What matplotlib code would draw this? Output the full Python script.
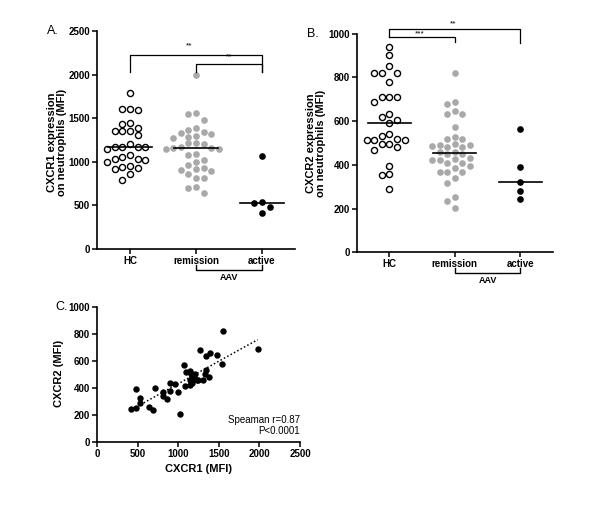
import numpy as np
import matplotlib
matplotlib.use("Agg")
import matplotlib.pyplot as plt

plt.rcParams['font.family'] = ['Liberation Sans', 'DejaVu Sans']

# данные
groups = ["HC", "remission", "active"]

cxcr1_hc = [1790, 1610, 1590, 1600, 1450, 1430, 1390, 1355, 1310, 1350, 1357,
            1170, 1165, 1200, 1150, 1165, 1170, 1075, 1035, 1025, 1030, 1050,
            1000, 950, 930, 915, 935, 865, 790]
cxcr1_rem = [1990, 1555, 1545, 1485, 1390, 1370, 1345, 1330, 1320, 1300, 1290,
             1270, 1220, 1210, 1200, 1165, 1160, 1155, 1150, 1150, 1085, 1080,
             1025, 995, 965, 930, 905, 915, 895, 860, 815, 815, 715, 695, 640]
cxcr1_act = [1070, 535, 530, 480, 410]

cxcr2_hc = [940, 902, 850, 820, 820, 820, 778, 712, 712, 712, 686, 632, 620,
            605, 590, 540, 532, 520, 512, 512, 512, 497, 497, 482, 467, 397,
            360, 355, 290]
cxcr2_rem = [819, 689, 678, 648, 633, 633, 572, 527, 517, 517, 494, 491, 491,
             488, 483, 483, 460, 457, 450, 450, 433, 425, 422, 421, 410, 407,
             395, 384, 369, 369, 369, 338, 316, 254, 235, 201]
cxcr2_act = [564, 389, 323, 280, 242]

corr_x = [415, 476, 476, 534, 534, 640, 693, 714, 813, 813, 866, 899, 899, 956,
          998, 1018, 1068, 1084, 1092, 1145, 1170, 1145, 1203, 1170, 1145, 1227,
          1195, 1268, 1338, 1392, 1330, 1310, 1380, 1474, 1535, 1556, 1979,
          1160, 1240, 1345]
corr_y = [246, 251, 389, 328, 289, 256, 237, 397, 372, 340, 320, 379, 434, 426,
          372, 207, 569, 414, 520, 522, 483, 458, 503, 434, 421, 458, 463, 680,
          636, 655, 503, 458, 478, 641, 577, 820, 690, 505, 455, 535]

W, H = 600, 516
fig = plt.figure(figsize=(W / 100, H / 100), dpi=100)


def box(l, t, r, b):
    # пиксели -> доли фигуры
    return [l / W, 1 - b / H, (r - l) / W, (b - t) / H]


def style(ax):
    for s in ["top", "right"]:
        ax.spines[s].set_visible(False)
    for s in ["left", "bottom"]:
        ax.spines[s].set_linewidth(1.2)
    ax.tick_params(direction="out", length=3.5, width=1.1, pad=1.5,
                   labelsize=7)
    for lab in ax.get_xticklabels() + ax.get_yticklabels():
        lab.set_fontweight("bold")


def swarm(ax, vals, center, diam_px):
    # простой beeswarm: сдвигаем точку вбок 0, -1, +1, -2 ... пока не перестанет перекрываться
    tr = ax.transData
    p0 = tr.transform((center, 0))[0]
    p1 = tr.transform((center + 1, 0))[0]
    step = diam_px / (p1 - p0)
    placed = []
    xs = []
    for v in vals:
        py = tr.transform((center, v))[1]
        n = 0
        while True:
            k = -((n + 1) // 2) if n % 2 else n // 2
            x = center + k * step
            px = tr.transform((x, v))[0]
            if all((px - a) ** 2 + (py - b) ** 2 >= (diam_px * 0.9) ** 2
                   for a, b in placed):
                break
            n += 1
        placed.append((px, py))
        xs.append(x)
    return np.array(xs)


def dot_panel(ax, data, ymax, ystep):
    ax.set_xlim(-0.5, 2.5)
    ax.set_ylim(0, ymax)
    ax.set_yticks(np.arange(0, ymax + 1, ystep))
    ax.set_xticks(range(3))
    ax.set_xticklabels(groups)
    kinds = [dict(mfc="white", mec="black", mew=1.0, ms=4.4),
             dict(mfc="#a9a9a9", mec="none", ms=4.8),
             dict(mfc="black", mec="none", ms=4.8)]
    for i, vals in enumerate(data):
        vals = np.sort(np.array(vals, dtype=float))[::-1]
        xs = swarm(ax, vals, i, 7.6)
        ax.plot(xs, vals, "o", linestyle="none", clip_on=False, **kinds[i])
        m = np.median(vals)
        ax.plot([i - 0.33, i + 0.33], [m, m], color="black", lw=1.2,
                zorder=5)
    style(ax)
    # скобка AAV под подписями
    tb = ax.get_xaxis_transform()
    ax.plot([1, 1, 2, 2], [-0.072, -0.095, -0.095, -0.072], color="black",
            lw=1.0, transform=tb, clip_on=False)
    ax.text(1.5, -0.108, "AAV", transform=tb, ha="center", va="top",
            fontsize=6.5, fontweight="bold")


def bracket(ax, x0, x1, y, d0, d1, txt, ty, tx):
    ax.plot([x0, x0, x1, x1], [d0, y, y, d1], color="black", lw=0.9,
            clip_on=False)
    ax.text(tx, ty, txt, ha="center", va="center", fontsize=6)


# Панель A
axA = fig.add_axes(box(97, 31, 295, 249))
dot_panel(axA, [cxcr1_hc, cxcr1_rem, cxcr1_act], 2500, 500)
axA.set_ylabel("CXCR1 expression\non neutrophils (MFI)", fontsize=8,
               fontweight="bold", linespacing=1.0)
axA.yaxis.set_label_coords(-0.15, 0.49)
bracket(axA, 0, 2, 2225, 2030, 2030, "**", 2330, 0.9)
bracket(axA, 1, 2, 2118, 2030, 2030, "**", 2205, 1.5)

# Панель B
axB = fig.add_axes(box(356.7, 33.7, 553, 252.3))
dot_panel(axB, [cxcr2_hc, cxcr2_rem, cxcr2_act], 1000, 200)
axB.set_ylabel("CXCR2 expression\non neutrophils (MFI)", fontsize=8,
               fontweight="bold", linespacing=1.0)
axB.yaxis.set_label_coords(-0.155, 0.5)
bracket(axB, 0, 2, 1020, 983, 959, "**", 1046, 0.98)
bracket(axB, 0, 1, 986, 983, 963, "***", 1000, 0.47)

# Панель C
axC = fig.add_axes(box(97, 306.7, 300, 442))
cx = np.array(corr_x, dtype=float)
cy = np.array(corr_y, dtype=float)
axC.plot(cx, cy, "o", color="black", ms=4.6, mec="none", clip_on=False)
k, b = np.polyfit(cx, cy, 1)
xl = np.array([np.sort(cx)[4], cx.max()])
axC.plot(xl, k * xl + b, color="black", lw=1.1, linestyle=(0, (1, 1.5)))
axC.set_xlim(0, 2500)
axC.set_ylim(0, 1000)
axC.set_xticks(np.arange(0, 2501, 500))
axC.set_yticks(np.arange(0, 1001, 200))
style(axC)
axC.set_xlabel("CXCR1 (MFI)", fontsize=8, fontweight="bold")
axC.xaxis.set_label_coords(0.5, -0.16)
axC.set_ylabel("CXCR2 (MFI)", fontsize=8, fontweight="bold")
axC.yaxis.set_label_coords(-0.165, 0.51)
axC.text(1.0, 0.12, "Speaman r=0.87\nP<0.0001", transform=axC.transAxes,
         ha="right", va="center", fontsize=7, linespacing=1.1)

fig.text(47 / W, 1 - 31 / H, "A.", fontsize=9, va="center")
fig.text(307 / W, 1 - 34 / H, "B.", fontsize=9, va="center")
fig.text(55 / W, 1 - 307 / H, "C.", fontsize=9, va="center")

fig.savefig("out.png", dpi=100)
